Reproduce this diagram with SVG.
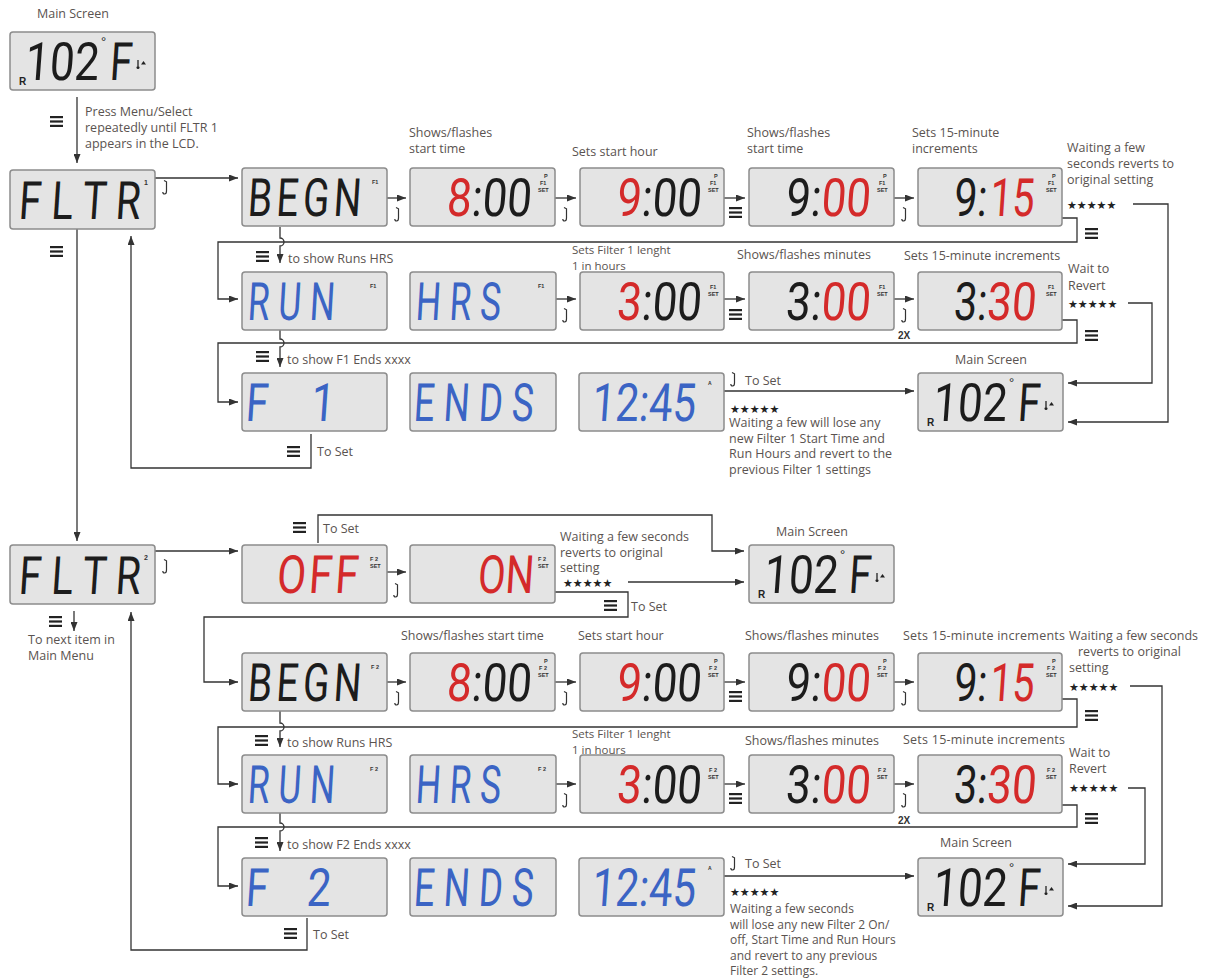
<svg xmlns="http://www.w3.org/2000/svg" width="1213" height="978" viewBox="0 0 1213 978">
<style>
.box{fill:#e4e4e4;stroke:#8c8c8c;stroke-width:1.5}
.lcd{font-family:Roboto,"Liberation Sans",Arial,sans-serif;font-weight:400;font-size:44px}
.k{fill:#1c1c1c}.r{fill:#d42a2a}.b{fill:#3b64c4}
.ind{font-family:"Liberation Sans",Arial,sans-serif;font-size:5.5px;font-weight:bold;fill:#333}
.deg{font-family:"Liberation Sans",Arial,sans-serif;font-size:13px;fill:#1c1c1c}
.rr{font-family:"Liberation Sans",Arial,sans-serif;font-size:10px;font-weight:bold;fill:#222}
.lbl{font-family:"Open Sans","Liberation Sans",sans-serif;font-size:12.5px;fill:#5a5350}
.sm{font-size:12px}
.xs{font-size:11.5px}
.star{font-family:"DejaVu Sans",sans-serif;font-size:11px;fill:#222}
.bold{font-family:"Liberation Sans",Arial,sans-serif;font-size:10px;font-weight:bold;fill:#333}
.conn path{fill:none;stroke:#333;stroke-width:1.3}
.arr{marker-end:url(#ah)}
</style>
<defs>
<marker id="ah" markerUnits="userSpaceOnUse" markerWidth="9" markerHeight="7" refX="9" refY="3.5" orient="auto"><path d="M0,0 L9,3.5 L0,7 z" fill="#333"/></marker>
<symbol id="menu" viewBox="0 0 13 11"><rect width="13" height="2.2" fill="#222"/><rect y="4.4" width="13" height="2.2" fill="#222"/><rect y="8.8" width="13" height="2.2" fill="#222"/></symbol>
<symbol id="hook" viewBox="0 0 8 16"><path d="M2,1.5 L4.5,2.8 V12 Q4.5,15 2.6,15 Q0.8,15 0.8,13" fill="none" stroke="#333" stroke-width="1.2"/></symbol>
<g id="therm"><path d="M2,0V6" stroke="#222" stroke-width="1.3"/><circle cx="2" cy="7.5" r="1.5" fill="#222"/><path d="M5,4.5 L7.5,1 L10,4.5z" fill="#222"/></g>
</defs>
<rect width="1213" height="978" fill="#ffffff"/>

<g id="connectors" class="conn">
<path class="arr" d="M77,97 V163"/>
<path class="arr" d="M155,178 H238"/>
<path class="arr" d="M387,198 H406"/>
<path class="arr" d="M555,198 H576"/>
<path class="arr" d="M724,198 H745"/>
<path class="arr" d="M894,198 H914"/>
<path class="arr" d="M1062,218 H1077 V242 H218 V299 H238"/>
<path class="arr" d="M280,227 V238 a4,4 0 0 1 0,8 V263"/>
<path class="arr" d="M1133,204 H1168 V422 H1068"/>
<path class="arr" d="M556,299 H576"/>
<path class="arr" d="M724,299 H745"/>
<path class="arr" d="M894,299 H914"/>
<path class="arr" d="M1062,320 H1077 V343 H218 V402 H238"/>
<path class="arr" d="M280,330 V339 a4,4 0 0 1 0,8 V367"/>
<path class="arr" d="M1128,303 H1152 V383 H1068"/>
<path class="arr" d="M724,391 H914"/>
<path class="arr" d="M311,434 V468 H131 V236"/>
<path class="arr" d="M77,229 V541"/>
<path class="arr" d="M155,551 H238"/>
<path class="arr" d="M387,572 H406"/>
<path class="arr" d="M318,543 V515 H712 V551 H744"/>
<path class="arr" d="M628,582 H744"/>
<path class="arr" d="M555,592 H628 V617 H204 V682 H238"/>
<path class="arr" d="M74,611 V631"/>
<path class="arr" d="M307,918 V950 H131 V612"/>
<path class="arr" d="M387,682 H406"/>
<path class="arr" d="M555,682 H576"/>
<path class="arr" d="M724,682 H745"/>
<path class="arr" d="M894,682 H914"/>
<path class="arr" d="M1062,699 H1077 V727 H218 V784 H238"/>
<path class="arr" d="M280,711 V723 a4,4 0 0 1 0,8 V747"/>
<path class="arr" d="M1130,686 H1162 V906 H1068"/>
<path class="arr" d="M556,784 H576"/>
<path class="arr" d="M724,784 H745"/>
<path class="arr" d="M894,784 H914"/>
<path class="arr" d="M1062,805 H1077 V827 H218 V886 H238"/>
<path class="arr" d="M280,813 V823 a4,4 0 0 1 0,8 V851"/>
<path class="arr" d="M1128,788 H1145 V864 H1068"/>
<path class="arr" d="M724,876 H914"/>
</g>

<g id="icons">
<use href="#menu" x="50" y="116" width="13" height="11"/>
<use href="#hook" x="162" y="179" width="8" height="16"/>
<use href="#hook" x="394" y="206" width="8" height="16"/>
<use href="#hook" x="562" y="206" width="8" height="16"/>
<use href="#menu" x="729" y="207" width="13" height="11"/>
<use href="#hook" x="901" y="206" width="8" height="16"/>
<use href="#menu" x="1085" y="228" width="13" height="11"/>
<use href="#menu" x="256" y="251" width="13" height="11"/>
<use href="#menu" x="50" y="246" width="13" height="11"/>
<use href="#hook" x="562" y="307" width="8" height="16"/>
<use href="#menu" x="729" y="309" width="13" height="11"/>
<use href="#hook" x="901" y="307" width="8" height="16"/>
<use href="#menu" x="1085" y="330" width="13" height="11"/>
<use href="#menu" x="256" y="351" width="13" height="11"/>
<use href="#hook" x="730" y="371" width="8" height="16"/>
<use href="#menu" x="287" y="446" width="13" height="11"/>
<use href="#hook" x="162" y="558" width="8" height="16"/>
<use href="#hook" x="393" y="582" width="8" height="16"/>
<use href="#menu" x="293" y="522" width="13" height="11"/>
<use href="#menu" x="604" y="600" width="13" height="11"/>
<use href="#menu" x="49" y="616" width="13" height="11"/>
<use href="#hook" x="394" y="690" width="8" height="16"/>
<use href="#hook" x="562" y="690" width="8" height="16"/>
<use href="#menu" x="729" y="691" width="13" height="11"/>
<use href="#hook" x="901" y="690" width="8" height="16"/>
<use href="#menu" x="1085" y="710" width="13" height="11"/>
<use href="#menu" x="255" y="735" width="13" height="11"/>
<use href="#hook" x="562" y="792" width="8" height="16"/>
<use href="#menu" x="729" y="793" width="13" height="11"/>
<use href="#hook" x="901" y="792" width="8" height="16"/>
<use href="#menu" x="1085" y="813" width="13" height="11"/>
<use href="#menu" x="255" y="837" width="13" height="11"/>
<use href="#hook" x="730" y="855" width="8" height="16"/>
<use href="#menu" x="284" y="928" width="13" height="11"/>
</g>

<g id="main-screen-1" transform="translate(10,32)">
<rect class="box" width="145" height="58" rx="3"/>
<text class="lcd k" transform="translate(14,48) scale(1,1.2) skewX(-5)">102</text>
<text class="deg" x="91" y="14">°</text>
<text class="lcd k" transform="translate(99,48) scale(0.92,1.2) skewX(-5)">F</text>
<text class="rr" x="9" y="53">R</text>
<use href="#therm" x="126" y="28"/>
</g>
<g id="fltr-1" transform="translate(10,170)">
<rect class="box" width="145" height="59" rx="3"/>
<text class="lcd k" transform="translate(8,49) scale(0.92,1.2) skewX(-5)">F L T R</text>
<text class="ind r" x="134" y="15" style="font-size:7px">1</text>
</g>
<g id="begn-1" transform="translate(242,168)">
<rect class="box" width="145" height="58" rx="3"/>
<text class="lcd k" letter-spacing="5" transform="translate(5,48) scale(0.88,1.2) skewX(-5)">BEGN</text>
<text class="ind" x="130" y="16">F1</text>
</g>
<g id="start-1" transform="translate(410,168)">
<rect class="box" width="145" height="58" rx="3"/>
<text class="lcd" transform="translate(36,48) scale(1,1.2) skewX(-5)"><tspan class="r">8</tspan><tspan class="k">:00</tspan></text>
<text class="ind" x="134" y="10">P</text><text class="ind" x="130" y="17">F1</text><text class="ind" x="128" y="24">SET</text>
</g>
<g id="hour-1" transform="translate(580,168)">
<rect class="box" width="144" height="58" rx="3"/>
<text class="lcd" transform="translate(36,48) scale(1,1.2) skewX(-5)"><tspan class="r">9</tspan><tspan class="k">:00</tspan></text>
<text class="ind" x="134" y="10">P</text><text class="ind" x="130" y="17">F1</text><text class="ind" x="128" y="24">SET</text>
</g>
<g id="minutes-1" transform="translate(749,168)">
<rect class="box" width="145" height="58" rx="3"/>
<text class="lcd" transform="translate(36,48) scale(1,1.2) skewX(-5)"><tspan class="k">9:</tspan><tspan class="r">00</tspan></text>
<text class="ind" x="134" y="10">P</text><text class="ind" x="130" y="17">F1</text><text class="ind" x="128" y="24">SET</text>
</g>
<g id="increment-1" transform="translate(918,168)">
<rect class="box" width="144" height="58" rx="3"/>
<text class="lcd k" transform="translate(35,48) scale(0.94,1.2) skewX(-5)">9:</text>
<text class="lcd r" transform="translate(71,48) scale(0.9,1.2) skewX(-5)">15</text>
<text class="ind" x="134" y="10">P</text><text class="ind" x="130" y="17">F1</text><text class="ind" x="128" y="24">SET</text>
</g>
<g id="run-1" transform="translate(242,272)">
<rect class="box" width="145" height="58" rx="3"/>
<text class="lcd b" transform="translate(5,48) scale(0.8,1.2) skewX(-5)">R U N</text>
<text class="ind" x="128" y="16">F1</text>
</g>
<g id="hrs-1" transform="translate(410,272)">
<rect class="box" width="146" height="58" rx="3"/>
<text class="lcd b" transform="translate(5,48) scale(0.8,1.2) skewX(-5)">H R S</text>
<text class="ind" x="128" y="16">F1</text>
</g>
<g id="length-1" transform="translate(580,272)">
<rect class="box" width="144" height="58" rx="3"/>
<text class="lcd" transform="translate(36,48) scale(1,1.2) skewX(-5)"><tspan class="r">3</tspan><tspan class="k">:00</tspan></text>
<text class="ind" x="130" y="17">F1</text><text class="ind" x="128" y="24">SET</text>
</g>
<g id="lenmin-1" transform="translate(749,272)">
<rect class="box" width="145" height="58" rx="3"/>
<text class="lcd" transform="translate(36,48) scale(1,1.2) skewX(-5)"><tspan class="k">3:</tspan><tspan class="r">00</tspan></text>
<text class="ind" x="130" y="17">F1</text><text class="ind" x="128" y="24">SET</text>
</g>
<g id="leninc-1" transform="translate(918,272)">
<rect class="box" width="144" height="58" rx="3"/>
<text class="lcd k" transform="translate(35,48) scale(0.94,1.2) skewX(-5)">3:</text>
<text class="lcd r" transform="translate(68,48) scale(1,1.2) skewX(-5)">30</text>
<text class="ind" x="130" y="17">F1</text><text class="ind" x="128" y="24">SET</text>
</g>
<g id="f1-1" transform="translate(242,373)">
<rect class="box" width="145" height="58" rx="3"/>
<text class="lcd b" transform="translate(3,48) scale(0.92,1.2) skewX(-5)">F</text>
<text class="lcd b" transform="translate(68,48) scale(0.97,1.2) skewX(-5)">1</text>
</g>
<g id="ends-1" transform="translate(410,373)">
<rect class="box" width="146" height="58" rx="3"/>
<text class="lcd b" transform="translate(3,48) scale(0.83,1.2) skewX(-5)">E N D S</text>
</g>
<g id="endtime-1" transform="translate(579,373)">
<rect class="box" width="145" height="58" rx="3"/>
<text class="lcd b" transform="translate(12,48) scale(0.95,1.2) skewX(-5)">12:45</text>
<text class="ind" x="129" y="12" style="font-size:5px">A</text>
</g>
<g id="main-screen-2" transform="translate(918,373)">
<rect class="box" width="145" height="58" rx="3"/>
<text class="lcd k" transform="translate(14,48) scale(1,1.2) skewX(-5)">102</text>
<text class="deg" x="91" y="14">°</text>
<text class="lcd k" transform="translate(99,48) scale(0.92,1.2) skewX(-5)">F</text>
<text class="rr" x="9" y="53">R</text>
<use href="#therm" x="126" y="28"/>
</g>

<g id="fltr-2" transform="translate(10,545)">
<rect class="box" width="145" height="59" rx="3"/>
<text class="lcd k" transform="translate(8,49) scale(0.92,1.2) skewX(-5)">F L T R</text>
<text class="ind r" x="134" y="15" style="font-size:7px">2</text>
</g>
<g id="off" transform="translate(242,545)">
<rect class="box" width="145" height="58" rx="3"/>
<text class="lcd r" letter-spacing="3" transform="translate(34,48) scale(0.96,1.2) skewX(-5)">OFF</text>
<text class="ind" x="128" y="16">F 2</text><text class="ind" x="128" y="23">SET</text>
</g>
<g id="on" transform="translate(410,545)">
<rect class="box" width="145" height="58" rx="3"/>
<text class="lcd r" transform="translate(67,48) scale(0.91,1.2) skewX(-5)">ON</text>
<text class="ind" x="128" y="16">F 2</text><text class="ind" x="128" y="23">SET</text>
</g>
<g id="main-screen-3" transform="translate(749,545)">
<rect class="box" width="145" height="58" rx="3"/>
<text class="lcd k" transform="translate(14,48) scale(1,1.2) skewX(-5)">102</text>
<text class="deg" x="91" y="14">°</text>
<text class="lcd k" transform="translate(99,48) scale(0.92,1.2) skewX(-5)">F</text>
<text class="rr" x="9" y="53">R</text>
<use href="#therm" x="126" y="28"/>
</g>
<g id="begn-2" transform="translate(242,653)">
<rect class="box" width="145" height="58" rx="3"/>
<text class="lcd k" letter-spacing="5" transform="translate(5,48) scale(0.88,1.2) skewX(-5)">BEGN</text>
<text class="ind" x="129" y="16">F 2</text>
</g>
<g id="start-2" transform="translate(410,653)">
<rect class="box" width="145" height="58" rx="3"/>
<text class="lcd" transform="translate(36,48) scale(1,1.2) skewX(-5)"><tspan class="r">8</tspan><tspan class="k">:00</tspan></text>
<text class="ind" x="134" y="10">P</text><text class="ind" x="129" y="17">F 2</text><text class="ind" x="128" y="24">SET</text>
</g>
<g id="hour-2" transform="translate(580,653)">
<rect class="box" width="144" height="58" rx="3"/>
<text class="lcd" transform="translate(36,48) scale(1,1.2) skewX(-5)"><tspan class="r">9</tspan><tspan class="k">:00</tspan></text>
<text class="ind" x="134" y="10">P</text><text class="ind" x="129" y="17">F 2</text><text class="ind" x="128" y="24">SET</text>
</g>
<g id="minutes-2" transform="translate(749,653)">
<rect class="box" width="145" height="58" rx="3"/>
<text class="lcd" transform="translate(36,48) scale(1,1.2) skewX(-5)"><tspan class="k">9:</tspan><tspan class="r">00</tspan></text>
<text class="ind" x="134" y="10">P</text><text class="ind" x="129" y="17">F 2</text><text class="ind" x="128" y="24">SET</text>
</g>
<g id="increment-2" transform="translate(918,653)">
<rect class="box" width="144" height="58" rx="3"/>
<text class="lcd k" transform="translate(35,48) scale(0.94,1.2) skewX(-5)">9:</text>
<text class="lcd r" transform="translate(71,48) scale(0.9,1.2) skewX(-5)">15</text>
<text class="ind" x="134" y="10">P</text><text class="ind" x="129" y="17">F 2</text><text class="ind" x="128" y="24">SET</text>
</g>
<g id="run-2" transform="translate(242,755)">
<rect class="box" width="145" height="58" rx="3"/>
<text class="lcd b" transform="translate(5,48) scale(0.8,1.2) skewX(-5)">R U N</text>
<text class="ind" x="128" y="16">F 2</text>
</g>
<g id="hrs-2" transform="translate(410,755)">
<rect class="box" width="146" height="58" rx="3"/>
<text class="lcd b" transform="translate(5,48) scale(0.8,1.2) skewX(-5)">H R S</text>
<text class="ind" x="128" y="16">F 2</text>
</g>
<g id="length-2" transform="translate(580,755)">
<rect class="box" width="144" height="58" rx="3"/>
<text class="lcd" transform="translate(36,48) scale(1,1.2) skewX(-5)"><tspan class="r">3</tspan><tspan class="k">:00</tspan></text>
<text class="ind" x="129" y="17">F 2</text><text class="ind" x="128" y="24">SET</text>
</g>
<g id="lenmin-2" transform="translate(749,755)">
<rect class="box" width="145" height="58" rx="3"/>
<text class="lcd" transform="translate(36,48) scale(1,1.2) skewX(-5)"><tspan class="k">3:</tspan><tspan class="r">00</tspan></text>
<text class="ind" x="129" y="17">F 2</text><text class="ind" x="128" y="24">SET</text>
</g>
<g id="leninc-2" transform="translate(918,755)">
<rect class="box" width="144" height="58" rx="3"/>
<text class="lcd k" transform="translate(35,48) scale(0.94,1.2) skewX(-5)">3:</text>
<text class="lcd r" transform="translate(68,48) scale(1,1.2) skewX(-5)">30</text>
<text class="ind" x="129" y="17">F 2</text><text class="ind" x="128" y="24">SET</text>
</g>
<g id="f2-2" transform="translate(242,858)">
<rect class="box" width="145" height="58" rx="3"/>
<text class="lcd b" transform="translate(3,48) scale(0.92,1.2) skewX(-5)">F</text>
<text class="lcd b" transform="translate(64,48) scale(0.97,1.2) skewX(-5)">2</text>
</g>
<g id="ends-2" transform="translate(410,858)">
<rect class="box" width="146" height="58" rx="3"/>
<text class="lcd b" transform="translate(3,48) scale(0.83,1.2) skewX(-5)">E N D S</text>
</g>
<g id="endtime-2" transform="translate(579,858)">
<rect class="box" width="145" height="58" rx="3"/>
<text class="lcd b" transform="translate(12,48) scale(0.95,1.2) skewX(-5)">12:45</text>
<text class="ind" x="129" y="12" style="font-size:5px">A</text>
</g>
<g id="main-screen-4" transform="translate(918,858)">
<rect class="box" width="145" height="58" rx="3"/>
<text class="lcd k" transform="translate(14,48) scale(1,1.2) skewX(-5)">102</text>
<text class="deg" x="91" y="14">°</text>
<text class="lcd k" transform="translate(99,48) scale(0.92,1.2) skewX(-5)">F</text>
<text class="rr" x="9" y="53">R</text>
<use href="#therm" x="126" y="28"/>
</g>

<g id="labels" class="lbl">
<text x="37" y="18">Main Screen</text>
<text x="85" y="116">Press Menu/Select</text>
<text x="85" y="132">repeatedly until FLTR 1</text>
<text x="85" y="148">appears in the LCD.</text>
<text x="409" y="137">Shows/flashes</text>
<text x="409" y="153">start time</text>
<text x="572" y="156">Sets start hour</text>
<text x="747" y="137">Shows/flashes</text>
<text x="747" y="153">start time</text>
<text x="912" y="137">Sets 15-minute</text>
<text x="912" y="153">increments</text>
<text x="1067" y="152">Waiting a few</text>
<text x="1067" y="168">seconds reverts to</text>
<text x="1067" y="184">original setting</text>
<text x="288" y="263">to show Runs HRS</text>
<text class="xs" x="572" y="254">Sets Filter 1 lenght</text>
<text class="xs" x="572" y="270">1 in hours</text>
<text x="737" y="259">Shows/flashes minutes</text>
<text x="904" y="260">Sets 15-minute increments</text>
<text x="1068" y="273">Wait to</text>
<text x="1068" y="290">Revert</text>
<text x="287" y="364">to show F1 Ends xxxx</text>
<text x="955" y="364">Main Screen</text>
<text x="745" y="385">To Set</text>
<text x="729" y="427">Waiting a few will lose any</text>
<text x="729" y="443">new Filter 1 Start Time and</text>
<text x="729" y="458">Run Hours and revert to the</text>
<text x="729" y="474">previous Filter 1 settings</text>
<text x="317" y="456">To Set</text>
<text x="323" y="533">To Set</text>
<text x="560" y="541">Waiting a few seconds</text>
<text x="560" y="557">reverts to original</text>
<text x="560" y="572">setting</text>
<text x="776" y="536">Main Screen</text>
<text x="631" y="611">To Set</text>
<text x="28" y="644">To next item in</text>
<text x="28" y="660">Main Menu</text>
<text x="401" y="640">Shows/flashes start time</text>
<text x="578" y="640">Sets start hour</text>
<text x="745" y="640">Shows/flashes minutes</text>
<text x="903" y="640" textLength="162">Sets 15-minute increments</text>
<text x="1069" y="640">Waiting a few seconds</text>
<text x="1078" y="656">reverts to original</text>
<text x="1069" y="672">setting</text>
<text x="287" y="747">to show Runs HRS</text>
<text class="xs" x="572" y="738">Sets Filter 1 lenght</text>
<text class="xs" x="572" y="754">1 in hours</text>
<text x="745" y="745">Shows/flashes minutes</text>
<text x="903" y="744" textLength="162">Sets 15-minute increments</text>
<text x="1069" y="757">Wait to</text>
<text x="1069" y="773">Revert</text>
<text x="287" y="849">to show F2 Ends xxxx</text>
<text x="940" y="847">Main Screen</text>
<text x="745" y="868">To Set</text>
<text class="sm" x="730" y="913">Waiting a few seconds</text>
<text class="sm" x="730" y="929">will lose any new Filter 2 On/</text>
<text class="sm" x="730" y="944">off, Start Time and Run Hours</text>
<text class="sm" x="730" y="960">and revert to any previous</text>
<text class="sm" x="730" y="975">Filter 2 settings.</text>
<text x="313" y="939">To Set</text>
</g>
<g id="marks">
<text class="star" x="1067" y="209">★★★★★</text>
<text class="star" x="1068" y="308">★★★★★</text>
<text class="star" x="730" y="413">★★★★★</text>
<text class="star" x="563" y="587">★★★★★</text>
<text class="star" x="1069" y="691">★★★★★</text>
<text class="star" x="1069" y="792">★★★★★</text>
<text class="star" x="730" y="896">★★★★★</text>
<text class="bold" x="898" y="339">2X</text>
<text class="bold" x="898" y="824">2X</text>
</g>
</svg>
